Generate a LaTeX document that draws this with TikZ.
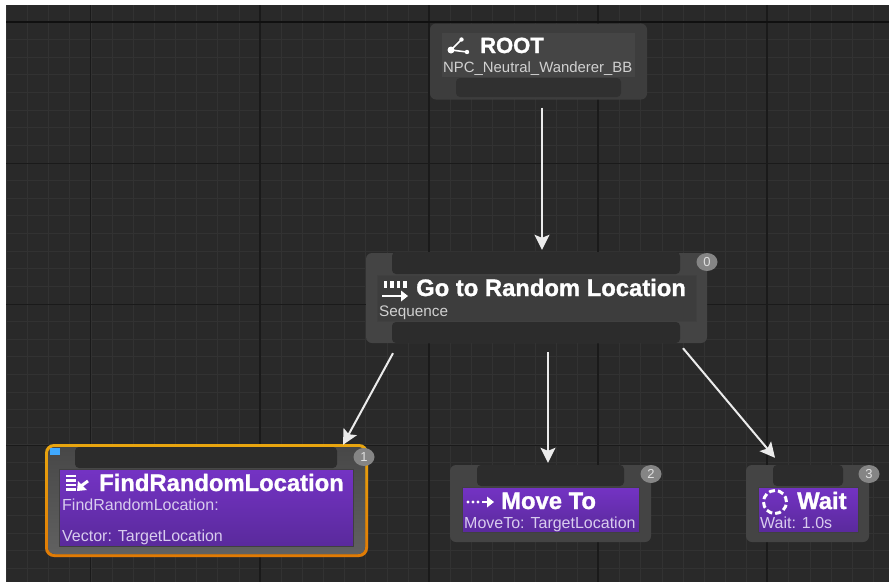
\documentclass[tikz,border=0pt]{standalone}
\usepackage{fontspec}
\setmainfont[BoldFeatures={FakeBold=1.2}]{Liberation Sans}
\usepackage{xcolor}
\usetikzlibrary{arrows.meta,shapes.geometric}

\definecolor{canvasbg}{HTML}{292929}
\definecolor{gridminor}{HTML}{323232}
\definecolor{gridmajor}{HTML}{1A1A1A}
\definecolor{shellgray}{HTML}{444444}
\definecolor{slotgray}{HTML}{2C2C2C}
\definecolor{tasktop}{HTML}{7433C4}
\definecolor{taskbot}{HTML}{5A2A9C}
\definecolor{tasktext}{HTML}{D8CCEE}
\definecolor{ringtop}{HTML}{E8A50F}
\definecolor{ringbot}{HTML}{E07A05}

\begin{document}
\begin{tikzpicture}[x=1pt, y=-1pt]
\tikzstyle{shell}=[rounded corners=6pt, fill=shellgray, inner sep=0pt]
\tikzstyle{slot}=[rounded corners=4pt, fill=slotgray, inner sep=0pt]
\tikzstyle{panel}=[draw=black!75, line width=.6pt, inner sep=0pt]
\tikzstyle{graypanel}=[panel, fill=white!24!black]
\tikzstyle{taskpanel}=[panel, top color=tasktop, bottom color=taskbot]
\tikzstyle{ttl}=[anchor=base west, inner sep=0pt, text=white, font=\bfseries\fontsize{23.8}{26}\selectfont]
\tikzstyle{sub}=[anchor=base west, inner sep=0pt, text=black!18, font=\fontsize{15.3}{17}\selectfont]
\tikzstyle{tasksub}=[sub, text=tasktext, font=\fontsize{16}{18}\selectfont]
\tikzstyle{badge}=[ellipse, fill=black!48, inner sep=0pt, minimum width=21pt, minimum height=18pt, text=black!12, font=\fontsize{13}{15}\selectfont]
\tikzstyle{wire}=[draw=white!92!black, line width=2pt, -{Stealth[length=15pt,width=15pt,inset=3pt]}]
\tikzstyle{glyph}=[draw=white, line width=2pt]

\useasboundingbox (0,0) rectangle (889,582);
\fill[canvasbg] (6,5) rectangle (889,582);

% grid
\foreach \gx in {0,...,41} {
  \draw[gridminor, line width=.8pt] ({6.3+21.15*\gx},5) -- ({6.3+21.15*\gx},582);
}
\foreach \gy in {0,...,31} {
  \draw[gridminor, line width=.8pt] (6,{22+17.62*\gy}) -- (889,{22+17.62*\gy});
}
\foreach \gx in {90.5,260,429,598,767} {
  \draw[gridmajor, line width=1.1pt] (\gx,5) -- (\gx,582);
}
\draw[gridmajor!60!black, line width=1.4pt] (6,22) -- (889,22);
\foreach \gy in {163,304,445} {
  \draw[gridmajor, line width=.8pt] (6,\gy) -- (889,\gy);
}

% root
\node[shell, fill=black!76!white, minimum width=217pt, minimum height=76pt] (root) at (538.5,61.5) {};
\node[inner sep=0pt, fill=black!73!white, minimum width=193pt, minimum height=44pt] (rootpanel) at (538.5,55) {};
\node[slot, fill=black!81!white, minimum width=165pt, minimum height=19pt] (rootslot) at (538.5,87.5) {};
\node[ttl, font=\bfseries\fontsize{22}{24}\selectfont] (roottitle) at (480,53) {ROOT};
\node[sub, font=\fontsize{14.9}{17}\selectfont] (rootsub) at (443,72) {NPC\_Neutral\_Wanderer\_BB};
\fill[white] (451,50) circle (3.5pt) (461.5,39.5) circle (2.2pt) (467,52) circle (2.2pt);
\draw[glyph, line width=1.6pt] (461.5,39.5) -- (451,50) -- (467,52);

% sequence
\node[shell, minimum width=341pt, minimum height=90pt] (seq) at (536.5,298) {};
\node[slot, minimum width=288pt, minimum height=22pt] (seqtop) at (536,263) {};
\node[slot, minimum width=288pt, minimum height=21pt] (seqbot) at (536,332.5) {};
\node[graypanel, minimum width=319pt, minimum height=46pt] (seqpanel) at (536.5,298) {};
\node[ttl] (seqtitle) at (416,296) {Go to Random Location};
\node[sub] (seqsub) at (379,316) {Sequence};
\node[badge] (seqbadge) at (707,262) {0};
\foreach \tx in {385.5,392,398.5,405} {
  \draw[glyph, line width=3.6pt] (\tx,281) -- (\tx,288);
}
\draw[glyph, line width=2.6pt] (382,296) -- (403,296);
\fill[white] (401,290.5) -- (408,296) -- (401,301.5) -- cycle;

% find random location
\node[shell, rounded corners=9pt, top color=ringtop, bottom color=ringbot, minimum width=323pt, minimum height=113pt] (find) at (206.5,500.5) {};
\node[shell, top color=black!72!white, bottom color=black!62!white, rounded corners=7pt, minimum width=317pt, minimum height=107pt] (findfill) at (206.5,500.5) {};
\node[slot, minimum width=262pt, minimum height=21pt] (findslot) at (206,457.5) {};
\node[taskpanel, minimum width=294pt, minimum height=77pt] (findpanel) at (206,507.5) {};
\node[ttl] (findtitle) at (99,491) {FindRandomLocation};
\node[tasksub] (findsub) at (62,510) {FindRandomLocation:};
\node[tasksub] (findvar) at (62,541) {Vector: TargetLocation};
\node[badge] (findbadge) at (364,457) {1};
\node[fill=blue!45!cyan!75!white, inner sep=0pt, minimum width=10pt, minimum height=7pt] (findmark) at (55,451.5) {};
\foreach \ty in {476,480.5,485,489.5} {
  \draw[glyph, line width=2.2pt] (66,\ty) -- (76,\ty);
}
\draw[glyph, line width=3pt] (88,481) -- (81,486);
\fill[white] (77,491) -- (78,481) -- (87,490) -- cycle;

% move to
\node[shell, minimum width=201pt, minimum height=77pt] (move) at (550.5,503.5) {};
\node[slot, minimum width=147pt, minimum height=21pt] (moveslot) at (550.5,475.5) {};
\node[taskpanel, minimum width=177pt, minimum height=45pt] (movepanel) at (550.5,509.5) {};
\node[ttl] (movetitle) at (501,509) {Move To};
\node[tasksub] (movesub) at (464,528) {MoveTo: TargetLocation};
\node[badge] (movebadge) at (651,474) {2};
\fill[white] (468,502) circle (1.7pt) (473,502) circle (1.7pt) (478,502) circle (1.7pt);
\draw[glyph, line width=2.6pt] (482,502) -- (489,502);
\fill[white] (487,496.5) -- (494,502) -- (487,507.5) -- cycle;

% wait
\node[shell, minimum width=123pt, minimum height=77pt] (wait) at (807.5,503.5) {};
\node[slot, minimum width=70pt, minimum height=21pt] (waitslot) at (808,475.5) {};
\node[taskpanel, minimum width=100pt, minimum height=45pt] (waitpanel) at (808,509.5) {};
\node[ttl] (waittitle) at (797,509) {Wait};
\node[tasksub] (waitsub) at (760,528) {Wait: 1.0s};
\node[badge] (waitbadge) at (869,474) {3};
\draw[glyph, line width=3pt, dash pattern=on 6pt off 3pt] (775,502) circle (11.5pt);

% connectors
\draw[wire] ([xshift=3.5pt,yshift=-8pt]root.south) -- ([xshift=5.5pt,yshift=3pt]seq.north);
\draw[wire] ([xshift=-143.5pt,yshift=-10pt]seq.south) -- ([xshift=136.5pt,yshift=-1pt]find.north);
\draw[wire] ([xshift=11.5pt,yshift=-9pt]seq.south) -- ([xshift=-2.5pt,yshift=2pt]move.north);
\draw[wire] ([xshift=146.5pt,yshift=-5pt]seq.south) -- ([xshift=-32.5pt,yshift=7pt]wait.north);
\end{tikzpicture}
\end{document}
